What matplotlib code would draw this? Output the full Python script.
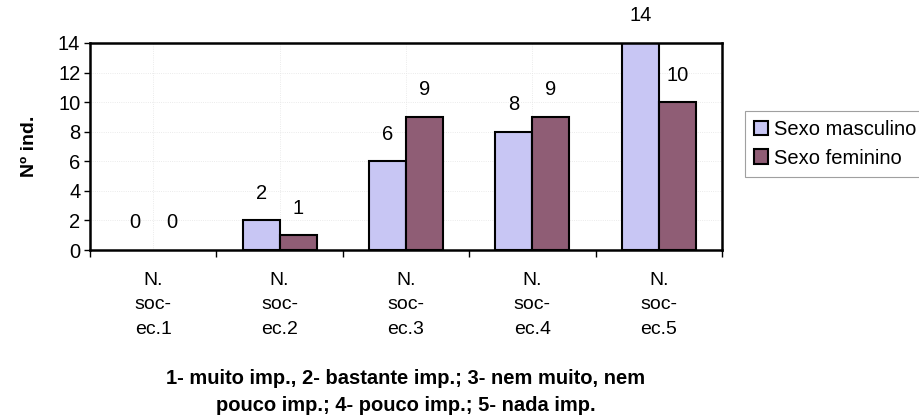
import numpy as np
import matplotlib
matplotlib.use('Agg')
import matplotlib.pyplot as plt

plt.rcParams['font.family'] = ['Liberation Sans', 'DejaVu Sans']

categories = ['N.\nsoc-\nec.1', 'N.\nsoc-\nec.2', 'N.\nsoc-\nec.3', 'N.\nsoc-\nec.4', 'N.\nsoc-\nec.5']
masculino = [0, 2, 6, 8, 14]
feminino = [0, 1, 9, 9, 10]
series_names = ['Sexo masculino', 'Sexo feminino']
colors = ['#c8c6f4', '#8f5d75']

fig = plt.figure(figsize=(9.2, 4.18), dpi=100)
ax = fig.add_axes([90 / 920, 1 - 250 / 418, 632 / 920, 207 / 418])

x = np.arange(len(categories))
w = 0.293
bars_m = ax.bar(x - w / 2, masculino, w, color=colors[0], edgecolor='black', linewidth=1.5, label=series_names[0])
bars_f = ax.bar(x + w / 2, feminino, w, color=colors[1], edgecolor='black', linewidth=1.5, label=series_names[1])

for bars, vals in [(bars_m, masculino), (bars_f, feminino)]:
    for b, v in zip(bars, vals):
        if v == 0:
            b.set_linewidth(0)
        ax.annotate(str(v), (b.get_x() + b.get_width() / 2, v), xytext=(0, 19.5),
                    textcoords='offset points', ha='center', va='center', fontsize=14.5,
                    annotation_clip=False)

ax.set_xlim(-0.5, len(categories) - 0.5)
ax.set_ylim(0, 14)
ax.set_yticks(range(0, 15, 2))
ax.set_xticks(x)
ax.set_xticklabels(categories, fontsize=14, linespacing=1.55)
ax.set_xticks(np.arange(-0.5, len(categories)), minor=True)
ax.tick_params(axis='x', which='major', length=0, pad=16)
ax.tick_params(axis='x', which='minor', length=5, width=1, direction='out')
ax.tick_params(axis='y', labelsize=14.5, length=4, width=1, direction='out', pad=3)

for s in ax.spines.values():
    s.set_linewidth(1.8)
ax.grid(axis='both', color='#e4e4e4', linestyle=':', linewidth=0.6)
ax.set_axisbelow(True)

ax.set_ylabel('Nº ind.', fontsize=14, fontweight='bold', labelpad=14)
fig.text(406 / 920, 1 - 392 / 418, '1- muito imp., 2- bastante imp.; 3- nem muito, nem\npouco imp.; 4- pouco imp.; 5- nada imp.',
         ha='center', va='center', fontsize=14.5, fontweight='bold', linespacing=1.5)

leg = fig.legend(loc='center left', bbox_to_anchor=(745 / 920, 1 - 144 / 418), fontsize=14.5,
                 handlelength=0.7, handleheight=0.7, handletextpad=0.3, labelspacing=0.45,
                 fancybox=False, borderpad=0.45, borderaxespad=0)
leg.get_frame().set_edgecolor('#888888')
leg.get_frame().set_linewidth(0.8)
for h in leg.legend_handles:
    h.set_edgecolor('black')
    h.set_linewidth(1.5)

fig.savefig('out.png', dpi=100)
